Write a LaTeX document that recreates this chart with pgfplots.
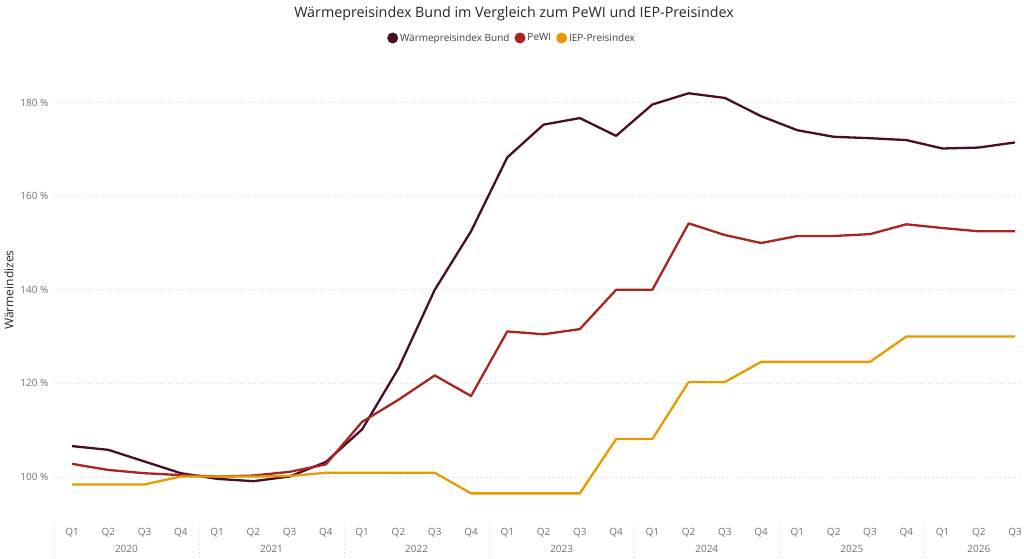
\documentclass[border=0pt]{standalone}
\usepackage{pgfplots}
\usepackage{pgfplotstable}
\pgfplotsset{compat=1.18}
\usepackage{fontspec}
\setmainfont{Open Sans}
\definecolor{wpi}{HTML}{4A0D26}
\definecolor{pewi}{HTML}{A82520}
\definecolor{iep}{HTML}{E49C00}
\definecolor{lbl}{HTML}{707070}
\definecolor{grd}{HTML}{D4D4D4}

\pgfplotstableread{
x w p i
0 106.6 102.8 98.4
1 105.8 101.5 98.4
2 103.3 100.8 98.4
3 100.8 100.4 100.1
4 99.6 100.1 100.1
5 99.1 100.3 100.1
6 100.1 101.1 100.2
7 103.2 102.7 100.9
8 110.2 111.8 100.9
9 123.2 116.5 100.9
10 140.0 121.7 100.9
11 152.5 117.3 96.5
12 168.3 131.1 96.5
13 175.3 130.5 96.5
14 176.7 131.6 96.5
15 172.9 140.0 108.1
16 179.6 140.0 108.1
17 182.0 154.2 120.3
18 181.0 151.7 120.3
19 177.1 150.0 124.6
20 174.1 151.5 124.6
21 172.7 151.5 124.6
22 172.4 151.9 124.6
23 172.0 154.0 130.0
24 170.2 153.2 130.0
25 170.4 152.5 130.0
26 171.5 152.5 130.0
}\datatable

\begin{document}
\begin{tikzpicture}
\useasboundingbox (0pt,0pt) rectangle (1024pt,558pt);
\node[font=\fontsize{14.3}{17}\selectfont, text=black!85] at (514pt,544pt) {Wärmepreisindex Bund im Vergleich zum PeWI und IEP-Preisindex};
\node[rotate=90, font=\fontsize{12}{14}\selectfont, text=black!85] at (9pt,268pt) {Wärmeindizes};
\begin{axis}[
  at={(53.9pt,43.6pt)}, anchor=south west, scale only axis,
  width=966.6pt, height=449.2pt,
  xmin=-0.5, xmax=26.15, ymin=92, ymax=188,
  axis line style={draw=none}, major tick length=0pt,
  clip=false,
  ytick={100,120,140,160,180},
  yticklabels={100 \%,120 \%,140 \%,160 \%,180 \%},
  yticklabel style={font=\fontsize{10}{12}\selectfont, text=lbl, anchor=east, xshift=-2pt},
  xtick={0,...,26},
  xticklabels={Q1,Q2,Q3,Q4,Q1,Q2,Q3,Q4,Q1,Q2,Q3,Q4,Q1,Q2,Q3,Q4,Q1,Q2,Q3,Q4,Q1,Q2,Q3,Q4,Q1,Q2,Q3},
  xticklabel style={font=\fontsize{10}{12}\selectfont, text=lbl, anchor=center, yshift=-18.6pt},
  ymajorgrids, xmajorgrids=false,
  y grid style={grd, line width=0.8pt, dash pattern=on 0.8pt off 3pt},
  legend columns=-1,
  legend style={at={(axis description cs:0.474,1)}, anchor=center, yshift=27.2pt, draw=none,
    font=\fontsize{10}{12}\selectfont, text=black!75,
    /tikz/every even column/.append style={column sep=3pt}},
  legend cell align=left,
]
\addplot[wpi, line width=2.3pt, line join=round, legend image code/.code={\fill[wpi] (0pt,0pt) circle (4.3pt);}] table[x=x,y=w] {\datatable};
\addlegendentry{Wärmepreisindex Bund}
\addplot[pewi, line width=2.3pt, line join=round, legend image code/.code={\fill[pewi] (0pt,0pt) circle (4.3pt);}] table[x=x,y=p] {\datatable};
\addlegendentry{PeWI}
\addplot[iep, line width=2.3pt, line join=round, legend image code/.code={\fill[iep] (0pt,0pt) circle (4.3pt);}] table[x=x,y=i] {\datatable};
\addlegendentry{IEP-Preisindex}
\foreach \s in {-0.5,3.5,7.5,11.5,15.5,19.5,23.5} {
  \edef\tmp{\noexpand\draw[grd, line width=0.8pt, dash pattern=on 0.8pt off 3pt] (axis cs:\s,92) ++(0pt,-11pt) -- ++(0pt,-33pt);}
  \tmp
}
\node[font=\fontsize{10}{12}\selectfont, text=lbl] at (axis cs:1.5,92) [yshift=-34.6pt] {2020};
\node[font=\fontsize{10}{12}\selectfont, text=lbl] at (axis cs:5.5,92) [yshift=-34.6pt] {2021};
\node[font=\fontsize{10}{12}\selectfont, text=lbl] at (axis cs:9.5,92) [yshift=-34.6pt] {2022};
\node[font=\fontsize{10}{12}\selectfont, text=lbl] at (axis cs:13.5,92) [yshift=-34.6pt] {2023};
\node[font=\fontsize{10}{12}\selectfont, text=lbl] at (axis cs:17.5,92) [yshift=-34.6pt] {2024};
\node[font=\fontsize{10}{12}\selectfont, text=lbl] at (axis cs:21.5,92) [yshift=-34.6pt] {2025};
\node[font=\fontsize{10}{12}\selectfont, text=lbl] at (axis cs:25,92) [yshift=-34.6pt] {2026};
\end{axis}
\end{tikzpicture}
\end{document}
